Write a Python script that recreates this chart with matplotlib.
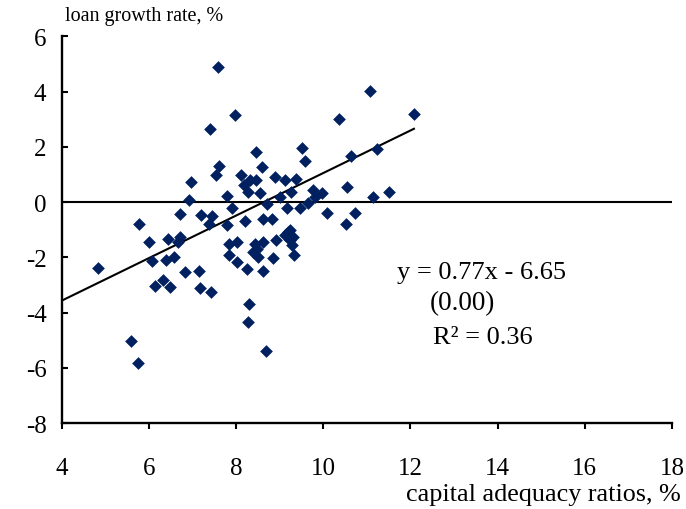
import matplotlib
matplotlib.use('Agg')
import matplotlib.pyplot as plt
import numpy as np

# bank-level observations: capital adequacy ratio (%) vs loan growth (%)
capital_ratio = [
  7.59, 11.07, 12.08, 10.36, 7.97, 7.40, 11.24, 8.46, 9.52, 7.60,
  7.55, 9.58, 8.59, 10.64, 6.97, 8.11, 8.32, 8.46, 8.17, 8.28,
  8.55, 8.89, 9.13, 9.38, 7.78, 6.93, 9.27, 9.01, 9.76, 9.97,
  9.81, 10.55, 11.50, 11.15, 9.64, 8.71, 7.90, 9.17, 9.46, 10.08,
  10.73, 10.52, 6.71, 7.19, 7.44, 7.37, 7.78, 8.20, 8.62, 8.82,
  5.78, 6.00, 6.43, 6.71, 6.67, 7.84, 8.01, 8.43, 8.62, 8.47,
  8.39, 8.92, 9.12, 9.20, 9.24, 9.30, 9.28, 9.32, 7.83, 9.24,
  8.51, 4.83, 6.08, 6.39, 6.58, 6.82, 7.15, 8.84, 8.03, 8.26,
  8.61, 6.14, 6.32, 6.48, 7.17, 7.43, 8.30, 8.27, 8.69, 5.59,
  5.74,
]
loan_growth = [
  4.88, 4.03, 3.18, 3.01, 3.15, 2.66, 1.92, 1.82, 1.97, 1.29,
  0.98, 1.50, 1.28, 1.65, 0.72, 0.99, 0.80, 0.78, 0.62, 0.35,
  0.32, 0.92, 0.80, 0.84, 0.21, 0.08, 0.35, 0.18, 0.42, 0.32,
  0.17, 0.56, 0.38, 0.17, -0.02, -0.08, -0.21, -0.21, -0.23, -0.40,
  -0.38, -0.80, -0.42, -0.46, -0.52, -0.78, -0.83, -0.70, -0.62, -0.60,
  -0.81, -1.43, -1.33, -1.27, -1.45, -1.52, -1.43, -1.51, -1.45, -1.69,
  -1.81, -1.36, -1.21, -1.09, -1.39, -1.27, -1.57, -1.91, -1.91, -1.00,
  -1.99, -2.38, -2.12, -2.11, -1.99, -2.53, -2.48, -2.04, -2.17, -2.44,
  -2.51, -3.03, -2.81, -3.08, -3.12, -3.26, -3.68, -4.36, -5.39, -5.04,
  -5.84,
]

# fitted trend
slope = 0.77
intercept = -6.65
p_value = 0.00
r_squared = 0.36

x_ticks = [4, 6, 8, 10, 12, 14, 16, 18]
y_ticks = [-8, -6, -4, -2, 0, 2, 4, 6]

plt.rcParams['font.family'] = ['Liberation Serif', 'DejaVu Serif']
plt.rcParams['axes.unicode_minus'] = False

fig = plt.figure(figsize=(6.86, 5.10), dpi=100)
ax = fig.add_axes([0.09, 0.1686, 0.8896, 0.7583])

ax.scatter(capital_ratio, loan_growth, marker='D', s=42, color='#002060',
           linewidths=0, zorder=3)

x_fit = np.array([4, max(capital_ratio)])
ax.plot(x_fit, slope * x_fit + intercept, color='black', lw=1.5, zorder=2)
ax.axhline(0, color='black', lw=1.5, zorder=1)

ax.set_xlim(4, 18)
ax.set_ylim(-8, 6)
ax.set_xticks(x_ticks)
ax.set_yticks(y_ticks)
ax.spines['top'].set_visible(False)
ax.spines['right'].set_visible(False)
ax.spines['left'].set_linewidth(1.7)
ax.spines['bottom'].set_linewidth(1.7)
ax.tick_params(axis='x', direction='out', length=4.5, width=1.5, pad=20, labelsize=18)
ax.tick_params(axis='y', direction='in', length=4.5, width=1.5, pad=11, labelsize=18)

sign = '-' if intercept < 0 else '+'
ax.text(11.69, -2.55, f'y = {slope:.2f}x {sign} {abs(intercept):.2f}',
        ha='left', va='center', fontsize=19)
ax.text(12.45, -3.63, f'({p_value:.2f})', ha='left', va='center', fontsize=19.5)
ax.text(12.52, -4.9, f'R² = {r_squared:.2f}', ha='left', va='center', fontsize=19)

fig.text(65 / 686, 1 - 17 / 510, 'loan growth rate, %', ha='left', va='center', fontsize=14.5)
fig.text(681 / 686, 1 - 495 / 510, 'capital adequacy ratios, %', ha='right', va='center',
         fontsize=18.8)

fig.savefig('out.png', dpi=100)
